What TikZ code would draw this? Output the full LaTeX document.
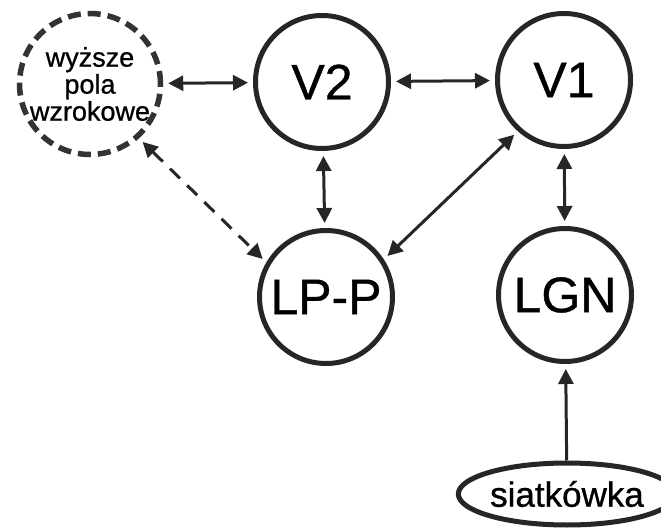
\documentclass[tikz,border=0pt]{standalone}
\usepackage{fontspec}
\newfontfamily\diagfont[FakeBold=0.8]{Liberation Sans}
\usetikzlibrary{arrows.meta,shapes.geometric}
\begin{document}
\begin{tikzpicture}[x=1pt,y=-1pt,
  area/.style={circle,draw=black!85,line width=5pt,minimum size=133pt,inner sep=0pt,
    font=\diagfont\fontsize{50}{50}\selectfont},
  higher/.style={circle,draw=black!80,line width=5.5pt,dash pattern=on 13pt off 7pt,
    minimum size=130pt,inner sep=0pt,align=center,
    font=\diagfont\fontsize{27}{27}\selectfont},
  retina/.style={ellipse,draw=black!85,line width=5pt,minimum width=216pt,minimum height=62pt,
    inner sep=0pt,font=\diagfont\fontsize{35}{35}\selectfont},
  link/.style={line width=3pt,draw=black!85,
    {Triangle[length=15pt,width=15pt]}-{Triangle[length=15pt,width=15pt]},
    shorten <=5pt,shorten >=5pt},
  feed/.style={line width=3pt,draw=black!85,-{Triangle[length=15pt,width=15pt]},
    shorten >=5pt},
  dlink/.style={link,dash pattern=on 14pt off 10pt}]
\clip (0,0) rectangle (661,529);
\fill[white] (0,0) rectangle (661,529);
\node[higher] (w) at (90,84) {wyższe\\pola\\wzrokowe};
\node[area] (v2) at (322,82) {V2};
\node[area] (v1) at (564,80) {V1};
\node[area] (lpp) at (326,297) {LP-P};
\node[area] (lgn) at (565,295) {LGN};
\node[retina] (ret) at (567,494) {siatkówka};
\draw[link] (w) -- (v2);
\draw[link] (v2) -- (v1);
\draw[link] (v2) -- (lpp);
\draw[link] (v1) -- (lgn);
\draw[link] (v1.228) -- (lpp.33);
\draw[dlink] (w.-48) -- (lpp.150);
\draw[feed] (ret) -- (lgn);
\end{tikzpicture}
\end{document}
